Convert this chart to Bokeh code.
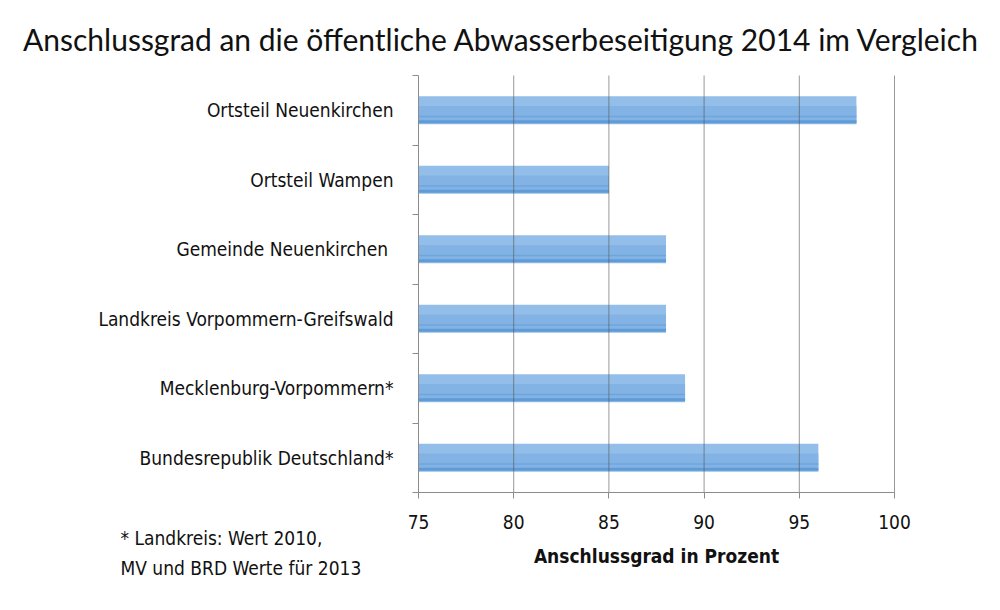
from bokeh.plotting import figure
from bokeh.models import FixedTicker, Label, Range1d
from bokeh.embed import file_html
from bokeh.resources import INLINE

categories = [
    "Ortsteil Neuenkirchen",
    "Ortsteil Wampen",
    "Gemeinde Neuenkirchen ",
    "Landkreis Vorpommern-Greifswald",
    "Mecklenburg-Vorpommern*",
    "Bundesrepublik Deutschland*",
]
values = [98, 85, 88, 88, 89, 96]
x_ticks = [75, 80, 85, 90, 95, 100]

title_text = "Anschlussgrad an die öffentliche Abwasserbeseitigung 2014 im Vergleich"
x_label = "Anschlussgrad in Prozent"
footnote = ["* Landkreis: Wert 2010,", "MV und BRD Werte für 2013"]

n = len(categories)
ypos = [n - i - 0.5 for i in range(n)]
x0, x1 = x_ticks[0], x_ticks[-1]

FONT = "DejaVu Sans Condensed"

# canvas layout (pixels): the frame fills the whole canvas, axes sit at fixed locations
W, H = 984, 594
PX_L, PX_R = 418, 894     # canvas x of x0 and x1
PY_T, PY_B = 75, 492      # canvas y (from top) of top and bottom of the category axis
xs = (PX_R - PX_L) / (x1 - x0)
ys = (PY_B - PY_T) / n
x_start = x0 - PX_L / xs
y_start = -(H - PY_B) / ys

p = figure(width=W, height=H, output_backend="svg", toolbar_location=None,
           x_range=Range1d(x_start, x_start + W / xs),
           y_range=Range1d(y_start, y_start + H / ys),
           min_border=0)
p.outline_line_color = None
p.background_fill_color = "white"
p.border_fill_color = "white"

left = [x0] * n
p.hbar(y=ypos, left=left, right=values, height=0.40, fill_color="#93bee9", line_color=None)
p.hbar(y=[y - 0.06 for y in ypos], left=left, right=values, height=0.24, fill_color="#83b3e4", line_color=None)
p.hbar(y=[y - 0.09 for y in ypos], left=left, right=values, height=0.025, fill_color="#6ea6dc", line_color=None)
p.hbar(y=[y - 0.165 for y in ypos], left=left, right=values, height=0.045, fill_color="#5f9bd7", line_color=None)

# vertical grid lines at the ticks
p.xgrid.visible = False
p.ygrid.visible = False
gx = x_ticks[1:]
p.segment(x0=gx, y0=[0] * len(gx), x1=gx, y1=[n] * len(gx),
          line_color="#555555", line_alpha=0.6, line_width=1)

# x axis
p.xaxis.fixed_location = 0
p.xaxis.bounds = (x0, x1)
p.xaxis.ticker = FixedTicker(ticks=x_ticks)
p.xaxis.axis_line_color = "#8c8c8c"
p.xaxis.major_tick_line_color = "#8c8c8c"
p.xaxis.major_tick_out = 6
p.xaxis.major_tick_in = 0
p.xaxis.minor_tick_line_color = None
p.xaxis.major_label_text_font = FONT
p.xaxis.major_label_text_font_size = "19px"
p.xaxis.major_label_text_color = "#111111"
p.xaxis.major_label_standoff = 16

# y axis: labels at centers, ticks at boundaries
p.yaxis.fixed_location = x0
p.yaxis.bounds = (0, n)
p.yaxis.ticker = FixedTicker(ticks=ypos, minor_ticks=list(range(n + 1)))
p.yaxis.major_label_overrides = {y: c for y, c in zip(ypos, categories)}
p.yaxis.axis_line_color = "#8c8c8c"
p.yaxis.major_tick_line_color = None
p.yaxis.minor_tick_line_color = "#8c8c8c"
p.yaxis.minor_tick_out = 6
p.yaxis.minor_tick_in = 0
p.yaxis.major_label_text_font = FONT
p.yaxis.major_label_text_font_size = "19px"
p.yaxis.major_label_text_color = "#111111"
p.yaxis.major_label_standoff = 19

# texts (screen units: from the canvas' bottom-left corner)
p.add_layout(Label(x=501, y=H - 38, x_units="screen", y_units="screen", text=title_text,
                   text_font="Lato", text_font_size="30px", text_color="#111111",
                   text_align="center", text_baseline="middle"))
p.add_layout(Label(x=(PX_L + PX_R) / 2, y=H - 555, x_units="screen", y_units="screen", text=x_label,
                   text_font=FONT, text_font_size="19px", text_font_style="bold",
                   text_color="#111111", text_align="center", text_baseline="middle"))
for i, line in enumerate(footnote):
    p.add_layout(Label(x=120, y=H - 537 - 30 * i, x_units="screen", y_units="screen", text=line,
                       text_font=FONT, text_font_size="19px", text_color="#111111",
                       text_align="left", text_baseline="middle"))

open("out.html", "w").write(file_html(p, INLINE))
